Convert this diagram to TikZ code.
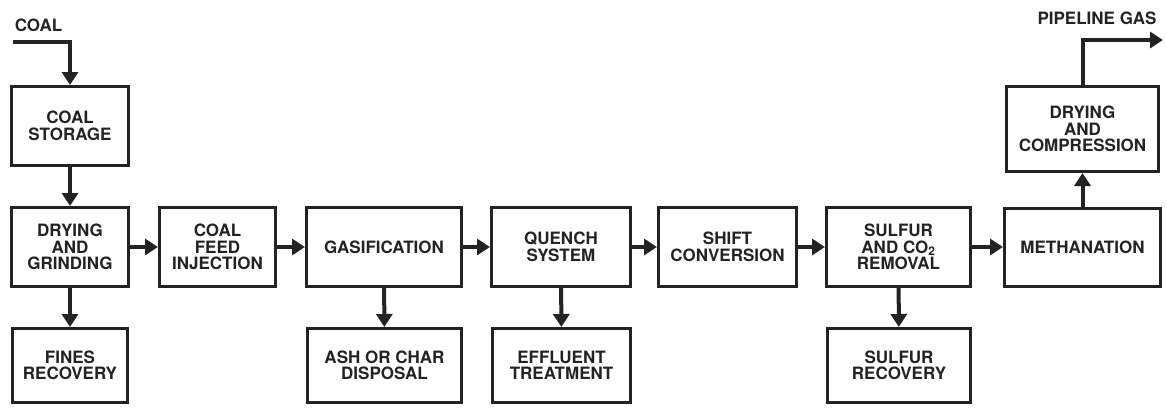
\documentclass[tikz,border=0pt]{standalone}
\usepackage{fontspec}
\setmainfont{TeX Gyre Heros}
\usepackage{tikz}
\usetikzlibrary{arrows.meta,calc}
\definecolor{ink}{RGB}{35,35,35}

\begin{document}
\begin{tikzpicture}[x=1pt,y=-1pt,
           unit/.style={draw=ink,line width=3pt,fill=white,align=center,inner sep=2pt,
                        font=\bfseries\fontsize{17}{16.5}\selectfont,text=ink},
           flow/.style={draw=ink,line width=4pt,-{Triangle[length=13pt,width=16pt]}},
           tag/.style={font=\bfseries\fontsize{17}{16.5}\selectfont,text=ink,inner sep=0pt}]
           \useasboundingbox (0,0) rectangle (1167,407);
           \node[unit,minimum width=117pt,minimum height=79pt] (storage) at (70,126) {COAL\\STORAGE};
           \node[unit,minimum width=117pt,minimum height=79pt] (grind) at (70,247) {DRYING\\AND\\GRINDING};
           \node[unit,minimum width=115pt,minimum height=74pt] (fines) at (70,365.5) {FINES\\RECOVERY};
           \node[unit,minimum width=116pt,minimum height=79pt] (feed) at (217.5,247) {COAL\\FEED\\INJECTION};
           \node[unit,minimum width=155pt,minimum height=79pt] (gasif) at (384,247) {GASIFICATION};
           \node[unit,minimum width=154pt,minimum height=74pt] (ash) at (384.5,365.5) {ASH OR CHAR\\DISPOSAL};
           \node[unit,minimum width=139pt,minimum height=79pt] (quench) at (561,247) {QUENCH\\SYSTEM};
           \node[unit,minimum width=138pt,minimum height=74pt] (effl) at (561.5,365.5) {EFFLUENT\\TREATMENT};
           \node[unit,minimum width=138pt,minimum height=79pt] (shift) at (727.5,247) {SHIFT\\CONVERSION};
           \node[unit,minimum width=144pt,minimum height=79pt] (sremove) at (898.5,247) {SULFUR\\AND CO\textsubscript{2}\\REMOVAL};
           \node[unit,minimum width=143pt,minimum height=74pt] (srecov) at (899,365.5) {SULFUR\\RECOVERY};
           \node[unit,minimum width=156pt,minimum height=78pt] (meth) at (1082.5,247) {METHANATION};
           \node[unit,minimum width=152pt,minimum height=85pt] (comp) at (1082.5,129) {DRYING\\AND\\COMPRESSION};
           \node[tag] (coal) at (38.5,25.5) {COAL};
           \node[tag] (gas) at (1097,18) {PIPELINE GAS};
           \coordinate (coalin) at (13,42);
           \coordinate (gasout) at (1163,40);
           \draw[flow] (coalin) -| (storage);
           \draw[flow] (storage) -- (grind);
           \draw[flow] (grind) -- (fines);
           \draw[flow] (grind) -- (feed);
           \draw[flow] (feed) -- (gasif);
           \draw[flow] (gasif) -- (ash);
           \draw[flow] (gasif) -- (quench);
           \draw[flow] (quench) -- (effl);
           \draw[flow] (quench) -- (shift);
           \draw[flow] (shift) -- (sremove);
           \draw[flow] (sremove) -- (srecov);
           \draw[flow] (sremove) -- (meth);
           \draw[flow] (meth) -- (comp);
           \draw[flow] (comp) |- (gasout);
        \end{tikzpicture}
\end{document}
